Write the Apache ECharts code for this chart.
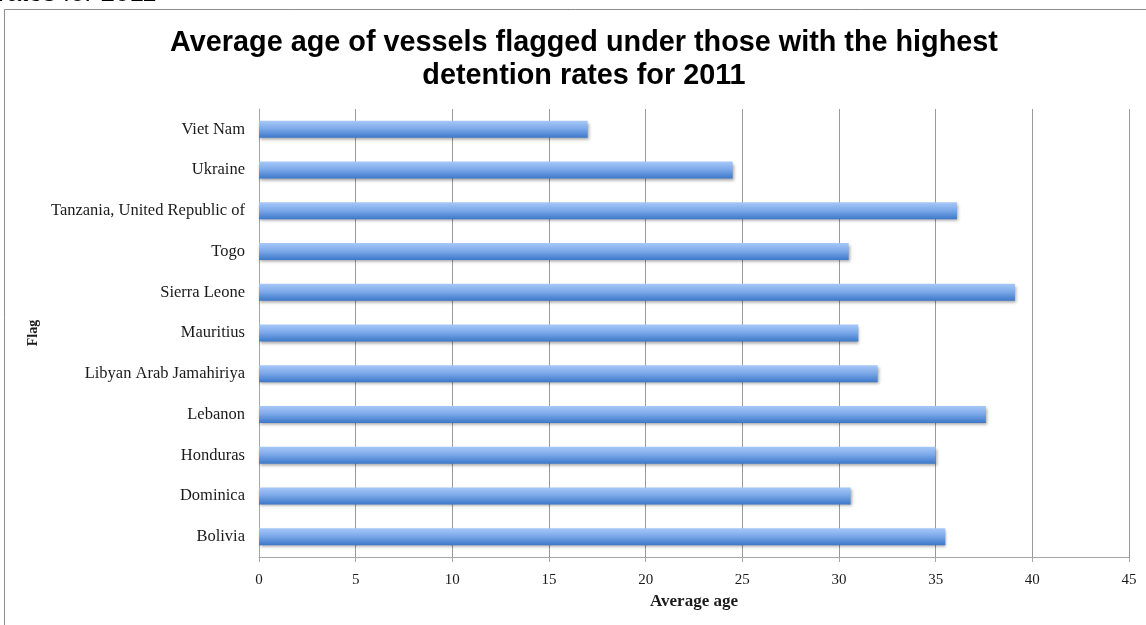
<!DOCTYPE html>
<html>
<head>
<meta charset="utf-8">
<script src="https://cdn.jsdelivr.net/npm/echarts@6/dist/echarts.min.js"></script>
<style>
  html, body { margin: 0; padding: 0; background: #ffffff; }
  #chart { width: 1146px; height: 625px; }
</style>
</head>
<body>
<div id="chart"></div>
<script>
// Flags, listed bottom to top as they appear on the category axis
const flags = [
  'Bolivia',
  'Dominica',
  'Honduras',
  'Lebanon',
  'Libyan Arab Jamahiriya',
  'Mauritius',
  'Sierra Leone',
  'Togo',
  'Tanzania, United Republic of',
  'Ukraine',
  'Viet Nam'
];

// Average age of vessels (years)
const averageAge = [35.5, 30.6, 35.0, 37.6, 32.0, 31.0, 39.1, 30.5, 36.1, 24.5, 17.0];

// Value axis ticks
const ageTicks = [0, 5, 10, 15, 20, 25, 30, 35, 40, 45];

const titleLines = [
  'Average age of vessels flagged under those with the highest',
  'detention rates for 2011'
];

const serif = '"Liberation Serif", "DejaVu Serif", serif';
const sans = '"Liberation Sans", Arial, sans-serif';

const chart = echarts.init(document.getElementById('chart'), null, { renderer: 'canvas' });

chart.setOption({
  animation: false,
  backgroundColor: '#ffffff',
  title: {
    text: titleLines.join('\n'),
    left: 579,
    top: 22,
    textAlign: 'center',
    textStyle: {
      fontFamily: sans,
      fontSize: 28.8,
      fontWeight: 'bold',
      color: '#000000',
      lineHeight: 33
    }
  },
  graphic: [
    {
      type: 'rect',
      silent: true,
      shape: { x: 4.5, y: 9.5, width: 1300, height: 800 },
      style: { fill: 'none', stroke: '#8c8c8c', lineWidth: 1 },
      z: 0
    },
    {
      type: 'text',
      silent: true,
      style: {
        x: -2,
        y: 7,
        text: 'rates for 2011',
        font: '26px ' + sans,
        fill: '#000000',
        textVerticalAlign: 'bottom'
      }
    }
  ],
  grid: {
    left: 259,
    right: 17,
    top: 109,
    bottom: 68,
    containLabel: false
  },
  xAxis: {
    type: 'value',
    min: ageTicks[0],
    max: ageTicks[ageTicks.length - 1],
    interval: ageTicks[1] - ageTicks[0],
    name: 'Average age',
    nameLocation: 'middle',
    nameGap: 35,
    nameTextStyle: {
      fontFamily: serif,
      fontSize: 17,
      fontWeight: 'bold',
      color: '#1a1a1a'
    },
    axisLine: { show: true, lineStyle: { color: '#a6a6a6', width: 1 } },
    axisTick: { show: true, length: 5, lineStyle: { color: '#a6a6a6' } },
    axisLabel: {
      fontFamily: serif,
      fontSize: 15,
      color: '#1a1a1a',
      margin: 16
    },
    splitLine: { show: true, lineStyle: { color: '#9a9a9a', width: 1 } }
  },
  yAxis: {
    type: 'category',
    data: flags,
    name: 'Flag',
    nameLocation: 'middle',
    nameGap: 219,
    nameRotate: 90,
    nameTextStyle: {
      fontFamily: serif,
      fontSize: 14,
      fontWeight: 'bold',
      color: '#1a1a1a'
    },
    axisLine: { show: true, lineStyle: { color: '#a6a6a6', width: 1 } },
    axisTick: { show: false },
    axisLabel: {
      fontFamily: serif,
      fontSize: 16.5,
      color: '#1a1a1a',
      margin: 14
    },
    splitLine: { show: false }
  },
  series: [
    {
      type: 'bar',
      data: averageAge,
      barWidth: 17,
      itemStyle: {
        color: new echarts.graphic.LinearGradient(0, 0, 0, 1, [
          { offset: 0, color: '#a7c8f8' },
          { offset: 0.45, color: '#7eaaea' },
          { offset: 1, color: '#3c78c9' }
        ]),
        shadowColor: 'rgba(0, 0, 0, 0.35)',
        shadowBlur: 3,
        shadowOffsetX: 1,
        shadowOffsetY: 2
      }
    }
  ]
});
</script>
</body>
</html>
